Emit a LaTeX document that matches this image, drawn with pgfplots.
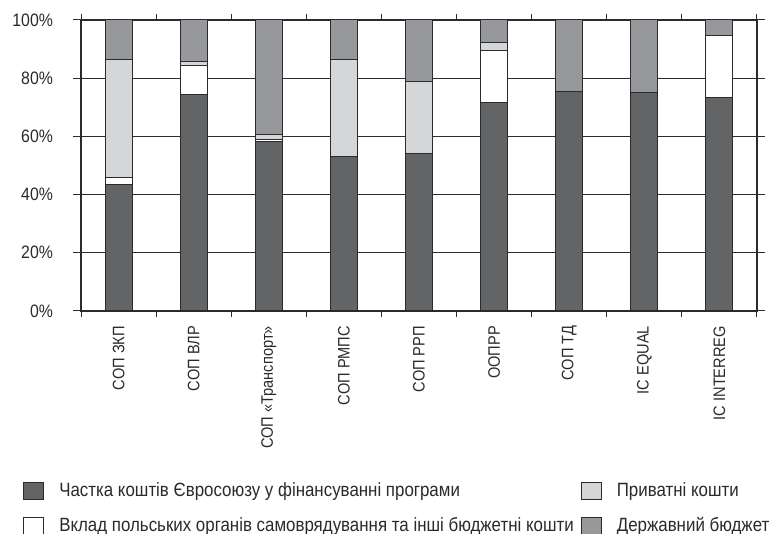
\documentclass[border=0pt]{standalone}
\usepackage{fontspec}
\setmainfont{Liberation Sans}[FakeStretch=0.88]
\usepackage{pgfplots}
\pgfplotsset{compat=1.18}

\definecolor{eu}{HTML}{636466}
\definecolor{priv}{HTML}{D5D6D8}
\definecolor{state}{HTML}{97989B}
\definecolor{edge}{HTML}{2B2B2B}
\definecolor{txt}{HTML}{2A2A2A}

\begin{document}
\begin{tikzpicture}
\path[use as bounding box] (-40.5pt,-111.5pt) rectangle (345pt,155.5pt);
\begin{axis}[
    at={(0,0)}, anchor=south west,
    scale only axis,
    width=338pt, height=145.5pt,
    ybar stacked,
    bar width=13.5pt,
    xmin=-0.5, xmax=8.5,
    ymin=0, ymax=100,
    xtick={0,...,8},
    xticklabels={СОП ЗКП, СОП ВЛР, СОП «Транспорт», СОП РМПС, СОП РРП, ООПРР, СОП ТД, IC EQUAL, IC INTERREG},
    major x tick style={draw=none},
    minor xtick={-0.5,0.5,...,8.5},
    minor x tick style={draw=edge, line width=0.5pt},
    x tick label style={rotate=90, anchor=east, font=\fontsize{8.3}{10}\selectfont, text=txt},
    ytick={0,40,60,100},
    extra y ticks={20,80},
    extra y tick style={grid style={draw=gray!75, line width=0.6pt}},
    yticklabel={\pgfmathprintnumber{\tick}\%},
    /pgf/number format/assume math mode=true,
    y tick label style={font=\fontsize{9}{10}\selectfont, text=txt, xshift=-6.5pt},
    ymajorgrids,
    major grid style={draw=edge, line width=0.5pt},
    tick align=outside,
    major tick length=4pt,
    minor tick length=3pt,
    y tick style={draw=edge, line width=0.5pt},
    axis line style={draw=edge, line width=0.6pt},
    legend columns=2,
    legend cell align=left,
    legend style={draw=none, fill=none, inner sep=0pt,
        at={(axis description cs:-0.086,-0.575)}, anchor=north west,
        font=\fontsize{9.6}{11}\selectfont, text=txt,
        row sep=5pt,
        /tikz/every odd column/.append style={column sep=5.5pt},
        /tikz/every even column/.append style={column sep=1.5pt}},
    legend image code/.code={\draw[#1] (0pt,-4.25pt) rectangle (10pt,4.25pt);},
]
\addplot[forget plot, fill=eu, draw=edge, line width=0.5pt] coordinates
    {(0,43.5) (1,74.5) (2,58.2) (3,53.0) (4,54.2) (5,71.8) (6,75.3) (7,75.0) (8,73.2)};
\addplot[forget plot, fill=white, draw=edge, line width=0.5pt] coordinates
    {(0,2.3) (1,10.0) (2,0.8) (3,0) (4,0) (5,17.8) (6,0) (7,0) (8,21.4)};
\addplot[forget plot, fill=priv, draw=edge, line width=0.5pt] coordinates
    {(0,40.6) (1,1.2) (2,1.6) (3,33.5) (4,24.6) (5,2.8) (6,0) (7,0) (8,0)};
\addplot[forget plot, fill=state, draw=edge, line width=0.5pt] coordinates
    {(0,13.6) (1,14.3) (2,39.4) (3,13.5) (4,21.2) (5,7.6) (6,24.7) (7,25.0) (8,5.4)};

\addlegendimage{fill=eu, draw=edge, line width=0.5pt}
\addlegendentry{Частка коштів Євросоюзу у фінансуванні програми}
\addlegendimage{fill=priv, draw=edge, line width=0.5pt}
\addlegendentry{Приватні кошти}
\addlegendimage{fill=white, draw=edge, line width=0.5pt}
\addlegendentry{Вклад польських органів самоврядування та інші бюджетні кошти}
\addlegendimage{fill=state, draw=edge, line width=0.5pt}
\addlegendentry{Державний бюджет}
\end{axis}
\end{tikzpicture}
\end{document}
